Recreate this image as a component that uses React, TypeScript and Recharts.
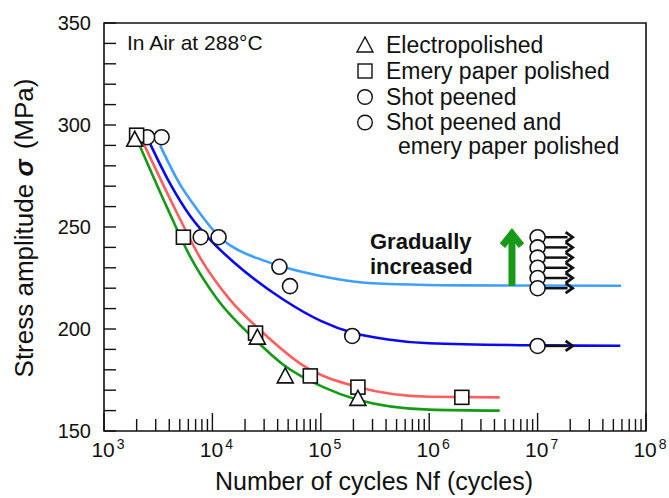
import React from 'react';
import {
  ComposedChart,
  Line,
  Scatter,
  XAxis,
  YAxis,
  ReferenceArea,
  Customized,
} from 'recharts';

// fitted curves (cycles, MPa)
const electroFit = [
  { n: 1905, s: 296 },
  { n: 3784, s: 260 },
  { n: 6166, s: 236 },
  { n: 10965, s: 215 },
  { n: 25704, s: 194 },
  { n: 45082, s: 182.5 },
  { n: 105440, s: 171.5 },
  { n: 213796, s: 165.5 },
  { n: 1000000, s: 160.5 },
  { n: 4470000, s: 160 },
];
const emeryFit = [
  { n: 2090, s: 296 },
  { n: 4700, s: 257 },
  { n: 7690, s: 235 },
  { n: 14450, s: 214.5 },
  { n: 29500, s: 198 },
  { n: 69000, s: 182 },
  { n: 214000, s: 171.7 },
  { n: 1000000, s: 166.8 },
  { n: 4470000, s: 166.5 },
];
const peenedFit = [
  { n: 2600, s: 292 },
  { n: 4000, s: 272 },
  { n: 6310, s: 255 },
  { n: 10000, s: 242.6 },
  { n: 15850, s: 232.6 },
  { n: 44670, s: 214.6 },
  { n: 100000, s: 204 },
  { n: 200000, s: 198 },
  { n: 400000, s: 195 },
  { n: 1000000, s: 193 },
  { n: 10000000, s: 192 },
  { n: 58000000, s: 191.8 },
];
const peenedEmeryFit = [
  { n: 3290, s: 290 },
  { n: 5010, s: 271 },
  { n: 7145, s: 259 },
  { n: 10000, s: 249 },
  { n: 12590, s: 243.5 },
  { n: 17580, s: 238.5 },
  { n: 28180, s: 234 },
  { n: 41500, s: 231 },
  { n: 100000, s: 226 },
  { n: 199500, s: 223.3 },
  { n: 501000, s: 221.9 },
  { n: 1995000, s: 221.4 },
  { n: 58900000, s: 221.2 },
];

// test points
const electroPts = [
  { n: 1920, s: 293 },
  { n: 26000, s: 196 },
  { n: 47000, s: 177 },
  { n: 220000, s: 166 },
];
const emeryPts = [
  { n: 2000, s: 295 },
  { n: 5400, s: 245 },
  { n: 25000, s: 198 },
  { n: 80000, s: 177 },
  { n: 220000, s: 171.5 },
  { n: 2000000, s: 166.5 },
];
const peenedPts = [
  { n: 2500, s: 294 },
  { n: 7800, s: 245 },
  { n: 52000, s: 221 },
  { n: 195000, s: 196.6 },
];
const peenedEmeryPts = [
  { n: 3400, s: 294 },
  { n: 11400, s: 245 },
  { n: 41500, s: 230.5 },
];
// run-outs (not failed) at 1e7 cycles
const runOuts = [
  { n: 10000000, s: 245 },
  { n: 10000000, s: 240 },
  { n: 10000000, s: 235 },
  { n: 10000000, s: 230 },
  { n: 10000000, s: 225 },
  { n: 10000000, s: 220 },
  { n: 10000000, s: 191.7 },
];
const gradualArrow = [{ n: 5800000, s: 221.2 }];

const decades = [1000, 10000, 100000, 1000000, 10000000];
const mantissas = [1, 2, 3, 4, 5, 6, 7, 8, 9];
const xTicks = [...decades.flatMap((d) => mantissas.map((m) => m * d)), 100000000];
const yTicks = [150, 160, 170, 180, 190, 200, 210, 220, 230, 240, 250, 260, 270, 280, 290, 300, 310, 320, 330, 340, 350];

const FONT = '"Liberation Sans", Arial, sans-serif';
const INK = '#111';

const XTick = (props: any) => {
  const { x, y, payload } = props;
  const v = payload.value;
  const exp = Math.round(Math.log10(v));
  const major = Math.abs(Math.pow(10, exp) - v) < 1e-6 * v;
  return (
    <g>
      <line x1={x} y1={y} x2={x} y2={y - (major ? 18 : 12)} stroke={INK} strokeWidth={1.4} />
      {major && (
        <text x={x + 4} y={y + 26} textAnchor="middle" fontFamily={FONT} fontSize={21} fill={INK}>
          10
          <tspan fontSize={14} dy={-8} dx={2}>{exp}</tspan>
        </text>
      )}
    </g>
  );
};

const YTick = (props: any) => {
  const { x, y, payload } = props;
  const major = payload.value % 50 === 0;
  return (
    <g>
      <line x1={x} y1={y} x2={x + 12} y2={y} stroke={INK} strokeWidth={1.4} />
      {major && (
        <text x={x - 13} y={y + 7} textAnchor="end" fontFamily={FONT} fontSize={20} fill={INK}>
          {payload.value}
        </text>
      )}
    </g>
  );
};

const TriangleMark = (p: any) => (
  <polygon
    points={`${p.cx},${p.cy - 8} ${p.cx - 8},${p.cy + 7} ${p.cx + 8},${p.cy + 7}`}
    fill="#fff"
    stroke={INK}
    strokeWidth={1.6}
  />
);
const SquareMark = (p: any) => (
  <rect x={p.cx - 7} y={p.cy - 7} width={14} height={14} fill="#fff" stroke={INK} strokeWidth={1.6} />
);
const CircleMark = (p: any) => (
  <circle cx={p.cx} cy={p.cy} r={7.5} fill="#fff" stroke={INK} strokeWidth={1.6} />
);
const RunOutMark = (p: any) => (
  <g>
    <line x1={p.cx + 7} y1={p.cy} x2={p.cx + 30} y2={p.cy} stroke={INK} strokeWidth={2.5} />
    <polyline
      points={`${p.cx + 28},${p.cy - 5} ${p.cx + 35},${p.cy} ${p.cx + 28},${p.cy + 5}`}
      fill="none"
      stroke={INK}
      strokeWidth={2.8}
    />
    <circle cx={p.cx} cy={p.cy} r={7.5} fill="#fff" stroke={INK} strokeWidth={1.6} />
  </g>
);
const GreenArrow = (p: any) => (
  <g stroke="#189a18" strokeWidth={7} fill="none" strokeLinejoin="miter">
    <line x1={p.cx} y1={p.cy} x2={p.cx} y2={p.cy - 52} />
    <polyline points={`${p.cx - 9.5},${p.cy - 40} ${p.cx},${p.cy - 52} ${p.cx + 9.5},${p.cy - 40}`} />
  </g>
);

const Annotations = () => (
  <g fontFamily={FONT} fill={INK}>
    <text x={127} y={50} fontSize={21}>In Air at 288°C</text>
    <text x={370} y={248.5} fontSize={22} fontWeight="bold">Gradually</text>
    <text x={370} y={273.5} fontSize={22} fontWeight="bold">increased</text>

    {/* legend */}
    <polygon points="365,37 357,52 373,52" fill="none" stroke={INK} strokeWidth={1.4} />
    <rect x={358} y={64} width={14} height={14} fill="none" stroke={INK} strokeWidth={1.4} />
    <circle cx={365} cy={97} r={7.3} fill="none" stroke={INK} strokeWidth={1.4} />
    <circle cx={365} cy={122.5} r={7.3} fill="none" stroke={INK} strokeWidth={1.4} />
    <text x={386} y={53} fontSize={23}>Electropolished</text>
    <text x={386} y={79} fontSize={23}>Emery paper polished</text>
    <text x={386} y={105} fontSize={23}>Shot peened</text>
    <text x={386} y={130} fontSize={23}>Shot peened and</text>
    <text x={398} y={154} fontSize={23}>emery paper polished</text>

    {/* axis titles */}
    <text x={374} y={490} fontSize={25} textAnchor="middle">Number of cycles Nf (cycles)</text>
    <text x={33} y={228} fontSize={26} textAnchor="middle" transform="rotate(-90, 33, 228)">
      Stress amplitude <tspan fontWeight="bold" fontStyle="italic">σ</tspan>
      <tspan dx={10}>(MPa)</tspan>
    </text>
  </g>
);

export default function App() {
  return (
    <div style={{ position: 'absolute', left: 0, top: 0, background: '#fff' }}>
      <ComposedChart width={669} height={498} margin={{ top: 23, right: 23, bottom: 0, left: 0 }}>
        <XAxis
          type="number"
          dataKey="n"
          scale="log"
          domain={[1000, 100000000]}
          allowDataOverflow
          ticks={xTicks}
          interval={0}
          tick={<XTick />}
          tickSize={0}
          tickMargin={0}
          axisLine={false}
          tickLine={false}
          height={67}
        />
        <YAxis
          type="number"
          dataKey="s"
          domain={[150, 350]}
          allowDataOverflow
          ticks={yTicks}
          interval={0}
          tick={<YTick />}
          tickSize={0}
          tickMargin={0}
          axisLine={false}
          tickLine={false}
          width={104}
        />
        <ReferenceArea x1={1000} x2={100000000} y1={150} y2={350} fill="none" fillOpacity={0} stroke={INK} strokeWidth={1.6} />

        <Line data={peenedEmeryFit} dataKey="s" type="monotone" stroke="#3f9fff" strokeWidth={2.6} dot={false} isAnimationActive={false} />
        <Line data={peenedFit} dataKey="s" type="monotone" stroke="#0a0af0" strokeWidth={2.6} dot={false} isAnimationActive={false} />
        <Line data={emeryFit} dataKey="s" type="monotone" stroke="#ff5e5e" strokeWidth={2.6} dot={false} isAnimationActive={false} />
        <Line data={electroFit} dataKey="s" type="monotone" stroke="#149a14" strokeWidth={2.6} dot={false} isAnimationActive={false} />

        <Scatter data={gradualArrow} dataKey="s" shape={<GreenArrow />} isAnimationActive={false} />
        <Scatter data={runOuts} dataKey="s" shape={<RunOutMark />} isAnimationActive={false} />
        <Scatter data={peenedEmeryPts} dataKey="s" shape={<CircleMark />} isAnimationActive={false} />
        <Scatter data={peenedPts} dataKey="s" shape={<CircleMark />} isAnimationActive={false} />
        <Scatter data={emeryPts} dataKey="s" shape={<SquareMark />} isAnimationActive={false} />
        <Scatter data={electroPts} dataKey="s" shape={<TriangleMark />} isAnimationActive={false} />

        <Customized component={<Annotations />} />
      </ComposedChart>
    </div>
  );
}
